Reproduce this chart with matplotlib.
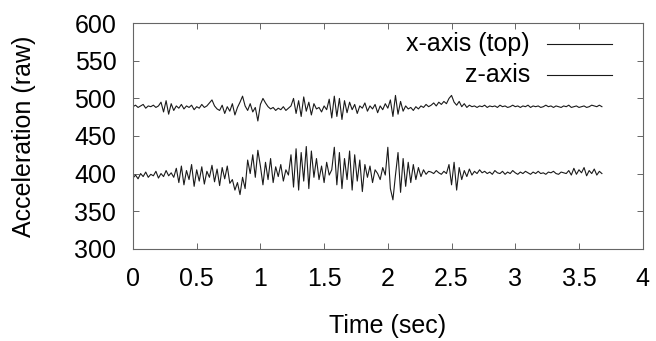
import numpy as np
import matplotlib
matplotlib.use('Agg')
import matplotlib.pyplot as plt

plt.rcParams['font.family'] = ['Liberation Sans', 'DejaVu Sans']

# sampling interval of the accelerometer trace (sec)
dt = 0.02

# x-axis acceleration (drawn on top)
x_axis = [489, 491, 488, 490, 492, 487, 490, 489, 491, 488, 490,
          495, 482, 497, 479, 493, 484,
          490, 487, 492, 486, 490, 488, 491, 485, 489, 487, 492, 488, 490, 494,
          498, 490, 486,
          484, 491, 480, 489, 483, 493, 478, 488, 495,
          503,
          490, 484, 493, 482, 488,
          470,
          492, 500, 494,
          489, 486, 488, 484, 487, 485, 489, 484, 487, 490,
          500, 480, 497, 476, 502, 483, 495, 478, 493, 486,
          488, 482, 490, 485,
          499, 474, 503, 476, 500, 472, 497, 481, 495,
          485, 492, 480, 490, 487, 494, 483, 490,
          486, 492, 481, 490, 485, 493, 487,
          498, 476, 504, 479, 496, 483,
          490, 486, 488, 484, 489, 486, 490, 488, 492, 489,
          491, 494, 490, 495, 492, 496, 493,
          500, 504,
          495, 491, 496, 489, 493, 488, 491,
          489, 490, 488, 490, 489, 491, 488, 490, 489, 490, 488, 491, 489,
          490, 488, 489, 491, 489, 490, 488, 490, 489, 491, 488, 490, 489,
          490, 488, 489, 491, 489, 490, 488, 490, 489, 488, 490, 489, 491,
          488, 489, 490, 488, 489, 490, 488, 489, 491, 490, 489, 491, 489]

# z-axis acceleration
z_axis = [394, 398, 393, 400, 396, 402, 395, 399, 397, 403, 394, 400, 396, 404, 397, 401, 395,
          407, 388, 410, 385, 404, 392, 412, 383, 405, 390, 409, 386, 403, 395, 411, 389,
          406, 384, 408, 393, 410, 387,
          392, 378, 388, 372, 395, 380,
          418, 400, 425, 395, 431, 410,
          385, 415, 392, 420, 388, 409, 396, 412, 390, 405, 398,
          425, 382, 433, 378, 428, 390, 436, 380, 430, 395, 420,
          392, 410, 388, 415, 398, 405,
          435, 385, 428, 380, 420, 392, 430, 378, 425, 390, 418, 376, 412,
          395, 410, 388, 405, 400, 392, 408, 398,
          435,
          380, 365, 398,
          428, 375, 420, 383, 415, 388, 412, 392, 408, 396, 405, 399, 403,
          402, 400, 404, 401, 399, 403, 400,
          412, 385, 415, 378, 408, 392,
          404, 396, 406, 398, 403, 400, 405,
          401, 403, 400, 402, 399, 404, 401, 400, 403, 399, 402, 400, 404,
          401, 399, 402, 400, 403, 401, 399, 402, 400, 403, 400, 401, 399,
          402, 401, 403, 400, 399, 402, 401, 400,
          404, 398, 407, 399, 405, 401, 408, 397, 404, 400, 406, 398, 403, 400]

t_x = np.arange(len(x_axis)) * dt
t_z = np.arange(len(z_axis)) * dt

fig = plt.figure(figsize=(6.56, 3.41), dpi=100)
ax = fig.add_axes([0.2027, 0.2707, 0.777, 0.661])

line_col = '#1a1a1a'
ax.plot(t_x, x_axis, color=line_col, lw=0.8)
ax.plot(t_z, z_axis, color=line_col, lw=0.8)

ax.set_xlim(0, 4)
ax.set_ylim(300, 600)
ax.set_xticks(np.arange(0, 4.01, 0.5))
ax.set_xticklabels(['0', '0.5', '1', '1.5', '2', '2.5', '3', '3.5', '4'])
ax.set_yticks(np.arange(300, 601, 50))

for s in ax.spines.values():
    s.set_color('#666666')
    s.set_linewidth(0.8)

fs = 18
ax.tick_params(direction='in', length=4.5, width=0.7, color='#666666',
               top=True, right=True, labelsize=fs)
ax.tick_params(axis='y', pad=12)
ax.tick_params(axis='x', pad=13)

ax.set_xlabel('Time (sec)', fontsize=fs)
ax.set_ylabel('Acceleration (raw)', fontsize=fs)
ax.xaxis.set_label_coords(0.5, -0.29)
ax.yaxis.set_label_coords(-0.19, 0.5)

# gnuplot style key: right aligned text, sample line after it
key = [('x-axis (top)', 0.908), ('z-axis', 0.771)]
for label, yk in key:
    ax.text(0.779, yk, label, transform=ax.transAxes, ha='right', va='center', fontsize=fs)
    ax.plot([0.812, 0.940], [yk, yk], transform=ax.transAxes, color=line_col, lw=0.8)

fig.savefig('out.png', dpi=100)
